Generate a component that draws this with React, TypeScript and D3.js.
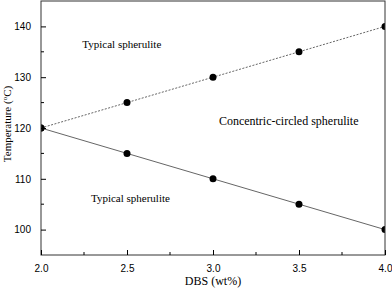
import { useEffect, useRef } from 'react';
import * as d3 from 'd3';

const dbs = [2.0, 2.5, 3.0, 3.5, 4.0];
const upperTemp = [120, 125, 130, 135, 140];
const lowerTemp = [120, 115, 110, 105, 100];
const xTicks = [2.0, 2.5, 3.0, 3.5, 4.0];
const yTicks = [100, 110, 120, 130, 140];

const App = () => {
  const svgRef = useRef<SVGSVGElement>(null);

  useEffect(() => {
    if (!svgRef.current) return;
    const W = 392, H = 291;
    const margin = { top: 1, right: 7, bottom: 36, left: 41 };
    const width = W - margin.left - margin.right;
    const height = H - margin.top - margin.bottom;

    const svg = d3.select(svgRef.current);
    svg.selectAll("*").remove();

    const g = svg.append("g")
      .attr("transform", `translate(${margin.left},${margin.top})`);

    const x = d3.scaleLinear().domain([2.0, 4.0]).range([0, width]);
    const y = d3.scaleLinear().domain([95, 145]).range([height, 0]);

    svg.append("defs").append("clipPath").attr("id", "plot")
      .append("rect").attr("width", width).attr("height", height);

    const line = d3.line<[number, number]>()
      .x(d => x(d[0]))
      .y(d => y(d[1]));

    const plot = g.append("g").attr("clip-path", "url(#plot)");

    const series = [
      { vals: upperTemp, dash: "2,1.5" },
      { vals: lowerTemp, dash: null },
    ];

    series.forEach(s => {
      const pts: [number, number][] = dbs.map((d, i) => [d, s.vals[i]]);
      plot.append("path")
        .datum(pts)
        .attr("fill", "none")
        .attr("stroke", "#666")
        .attr("stroke-width", 1)
        .attr("stroke-dasharray", s.dash)
        .attr("d", line);
      plot.selectAll(null)
        .data(pts)
        .enter().append("circle")
        .attr("cx", d => x(d[0]))
        .attr("cy", d => y(d[1]))
        .attr("r", 3.5)
        .attr("fill", "#000");
    });

    // frame
    g.append("rect")
      .attr("width", width).attr("height", height)
      .attr("fill", "none").attr("stroke", "#333").attr("stroke-width", 1);

    const tickFont = "'Liberation Sans', Arial, sans-serif";

    const xAxis = g.append("g")
      .attr("transform", `translate(0,${height})`)
      .call(d3.axisBottom(x).tickValues(xTicks).tickSize(-5).tickPadding(10).tickFormat(d3.format(".1f")));
    xAxis.select(".domain").remove();
    xAxis.append("g").call(gg => {
      gg.selectAll("line")
        .data(d3.range(2.25, 4, 0.5))
        .enter().append("line")
        .attr("x1", d => x(d)).attr("x2", d => x(d))
        .attr("y1", 0).attr("y2", -3).attr("stroke", "#000");
    });

    const yAxis = g.append("g")
      .call(d3.axisLeft(y).tickValues(yTicks).tickSize(-5).tickPadding(10));
    yAxis.select(".domain").remove();
    yAxis.append("g").call(gg => {
      gg.selectAll("line")
        .data(d3.range(105, 145, 10))
        .enter().append("line")
        .attr("y1", d => y(d)).attr("y2", d => y(d))
        .attr("x1", 0).attr("x2", 3).attr("stroke", "#000");
    });

    [xAxis, yAxis].forEach(a => {
      a.selectAll(".tick text")
        .attr("font-family", tickFont)
        .attr("font-size", 10)
        .attr("fill", "#000");
      a.selectAll(".tick line").attr("stroke", "#000");
    });

    const serif = "'Liberation Serif', 'Times New Roman', serif";

    const labels = [
      { text: "Typical spherulite", xv: 2.47, yv: 135.8, size: 11 },
      { text: "Typical spherulite", xv: 2.52, yv: 105.5, size: 11 },
      { text: "Concentric-circled spherulite", xv: 3.44, yv: 120.5, size: 12 },
    ];
    labels.forEach(l => {
      g.append("text")
        .attr("x", x(l.xv)).attr("y", y(l.yv))
        .attr("text-anchor", "middle")
        .attr("font-family", serif)
        .attr("font-size", l.size)
        .attr("fill", "#000")
        .text(l.text);
    });

    svg.append("text")
      .attr("x", margin.left + width / 2).attr("y", 285)
      .attr("text-anchor", "middle")
      .attr("font-family", serif)
      .attr("font-size", 12)
      .text("DBS (wt%)");

    const yl = svg.append("text")
      .attr("transform", `translate(11,124) rotate(-90)`)
      .attr("text-anchor", "middle")
      .attr("font-family", serif)
      .attr("font-size", 11);
    yl.append("tspan").text("Temperature (");
    yl.append("tspan").attr("font-size", 7).attr("dy", -4).text("o");
    yl.append("tspan").attr("dy", 4).text("C)");
  }, []);

  return (
    <svg ref={svgRef} width={392} height={291}
      style={{ position: "absolute", left: 0, top: 0, background: "#fff" }} />
  );
};

export default App;
